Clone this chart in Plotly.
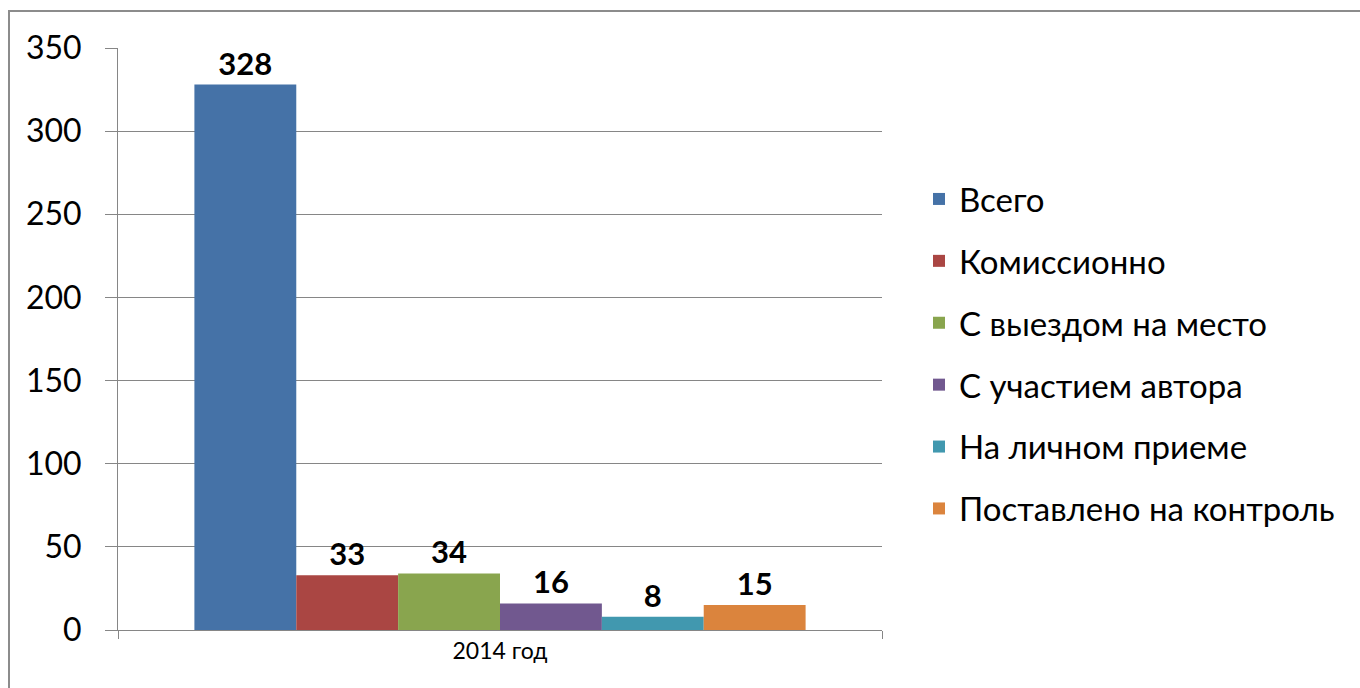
import plotly.graph_objects as go

category = ["2014 год"]
series_names = ["Всего", "Комиссионно", "С выездом на место", "С участием автора",
                "На личном приеме", "Поставлено на контроль"]
series_values = [328, 33, 34, 16, 8, 15]
colors = ["#4572A7", "#AA4643", "#89A54E", "#71588F", "#4198AF", "#DB843D"]

FONT = "Lato"
W, H = 1360, 688
L, R, T, B = 118, 882, 48, 630
pw, ph = R - L, B - T

fig = go.Figure()
for i, (name, val, col) in enumerate(zip(series_names, series_values, colors)):
    fig.add_trace(go.Bar(
        x=category, y=[val], name=name, marker=dict(color=col, line=dict(width=0)),
        text=[str(val)], textposition="outside", cliponaxis=False,
        textfont=dict(family=FONT, size=31, color="black", weight="bold"),
        legendgroup=f"g{i}", hoverinfo="skip",
    ))

fig.update_layout(
    width=W, height=H,
    margin=dict(l=L, r=W - R, t=T, b=H - B, autoexpand=False),
    paper_bgcolor="white", plot_bgcolor="white",
    barmode="group", bargap=0.2, bargroupgap=0,
    font=dict(family=FONT, color="black"),
    legend=dict(x=(919 - L) / pw, y=(B - 354) / ph, xanchor="left", yanchor="middle",
                font=dict(family=FONT, size=33, color="black"),
                tracegroupgap=16, itemwidth=30),
    xaxis=dict(showline=True, linecolor="#868686", linewidth=1,
               ticks="outside", tickson="boundaries", ticklen=8, tickcolor="#868686",
               tickfont=dict(family=FONT, size=23, color="black"), fixedrange=True),
    yaxis=dict(range=[0, 350], dtick=50, showgrid=True, gridcolor="#868686", gridwidth=1,
               showline=True, linecolor="#868686", linewidth=1,
               ticks="outside", ticklen=12, tickcolor="#868686", ticklabelstandoff=17,
               tickfont=dict(family=FONT, size=32, color="black"), zeroline=False,
               fixedrange=True),
    shapes=[dict(type="rect", xref="paper", yref="paper",
                 x0=(9 - L) / pw, x1=(1375 - L) / pw,
                 y0=(B - 700) / ph, y1=(B - 11) / ph,
                 line=dict(color="#8c8c8c", width=2), layer="below")],
)

fig.write_html("out.html", config={"displayModeBar": False},
               post_script="document.body.style.margin='0';document.body.style.overflow='hidden';")
